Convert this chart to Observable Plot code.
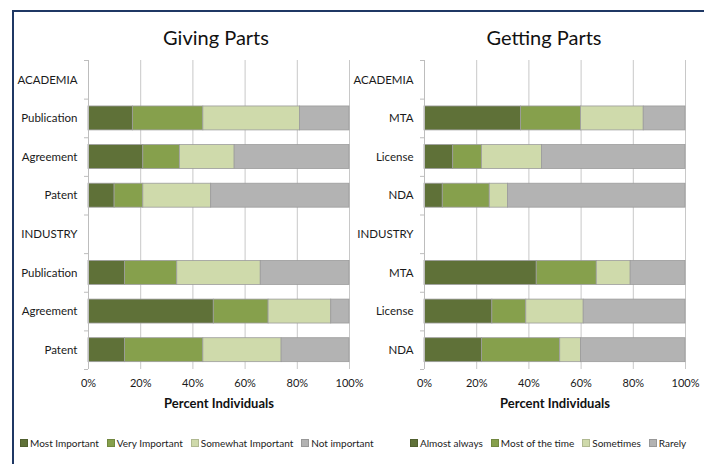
<!DOCTYPE html>
<html><head><meta charset="utf-8">
<script src="https://cdn.jsdelivr.net/npm/d3@7"></script>
<script src="https://cdn.jsdelivr.net/npm/@observablehq/plot@0.6"></script>
<style>
body{margin:0;background:#fff;font-family:Lato,"Open Sans",sans-serif}
#frame{position:relative;width:704px;height:464px;overflow:hidden;background:#fff}
#border{position:absolute;left:12px;top:10px;width:900px;height:700px;border-left:2px solid #1f3864;border-top:2px solid #1f3864}
.title{position:absolute;top:25px;font-size:20px;line-height:24px;transform:translateX(-50%);white-space:nowrap;color:#111}
.panel{position:absolute;top:50px}
.panel svg{overflow:visible}
.legend{position:absolute;top:436px;display:flex;gap:8px;font-size:10px;line-height:14px;color:#222;white-space:nowrap}
.legend .item{display:flex;align-items:center}
.legend .sw{display:inline-block;width:6px;height:6px;margin-right:2px;border:0.5px solid rgba(0,0,0,0.15)}
</style></head>
<body>
<div id="frame">
  <div id="border"></div>
  <div class="title" style="left:216px">Giving Parts</div>
  <div class="title" style="left:544px">Getting Parts</div>
  <div class="panel" id="p1" style="left:0px"></div>
  <div class="panel" id="p2" style="left:340px"></div>
  <div class="legend" id="l1" style="left:20px"></div>
  <div class="legend" id="l2" style="left:410px"></div>
</div>
<script>
// ---- data ----
const colors = ["#5f7138", "#86a04c", "#cfdaab", "#b3b3b3"];
const xTicks = [0, 20, 40, 60, 80, 100];

const giveLevels = ["Most Important", "Very Important", "Somewhat Important", "Not important"];
const giveCategories = ["ACADEMIA", "Publication", "Agreement", "Patent", "INDUSTRY", "Publication", "Agreement", "Patent"];
const giveMost     = [null, 17, 21, 10, null, 14, 48, 14];
const giveVery     = [null, 27, 14, 11, null, 20, 21, 30];
const giveSomewhat = [null, 37, 21, 26, null, 32, 24, 30];
const giveNot      = [null, 19, 44, 53, null, 34, 7, 26];

const getLevels = ["Almost always", "Most of the time", "Sometimes", "Rarely"];
const getCategories = ["ACADEMIA", "MTA", "License", "NDA", "INDUSTRY", "MTA", "License", "NDA"];
const getAlmost    = [null, 37, 11, 7, null, 43, 26, 22];
const getMost      = [null, 23, 11, 18, null, 23, 13, 30];
const getSometimes = [null, 24, 23, 7, null, 13, 22, 8];
const getRarely    = [null, 16, 55, 68, null, 21, 39, 40];

function panel(cats, series, levels, width, marginLeft, marginRight) {
  const rows = [];
  cats.forEach((c, i) => {
    let acc = 0;
    series.forEach((s, j) => {
      const v = s[i];
      if (v == null) return;
      rows.push({i, level: levels[j], x1: acc, x2: acc + v});
      acc += v;
    });
  });
  const centers = d3.range(cats.length).map(i => i + 0.5);
  const bounds = d3.range(cats.length + 1);
  return Plot.plot({
    width, height: 364,
    marginLeft, marginRight, marginTop: 10, marginBottom: 45,
    style: {background: "transparent", fontFamily: "Lato, 'Open Sans', sans-serif", color: "#1a1a1a", overflow: "visible"},
    x: {domain: [0, 100]},
    y: {domain: [0, cats.length], reverse: true},
    color: {domain: levels, range: colors},
    marks: [
      Plot.gridX(xTicks, {stroke: "#c8c8c8", strokeOpacity: 1}),
      Plot.rect(rows, {x1: "x1", x2: "x2", y1: d => d.i + 0.19, y2: d => d.i + 0.81,
        fill: "level", stroke: "#9c9c9c", strokeWidth: 0.8}),
      Plot.ruleX([0], {stroke: "#bdbdbd"}),
      Plot.axisX(xTicks, {tickSize: 0, tickPadding: 10, tickFormat: d => d + "%", fontSize: 11, label: null}),
      Plot.axisY(centers, {tickSize: 0, tickPadding: 11, tickFormat: d => cats[Math.floor(d)], fontSize: 11.5, label: null}),
      Plot.axisY(bounds, {tickSize: 4, stroke: "#bdbdbd", tickFormat: () => "", label: null}),
      Plot.text(["Percent Individuals"], {frameAnchor: "bottom", dy: 38, fontWeight: "bold", fontSize: 13, fill: "#111"})
    ]
  });
}

document.getElementById("p1").appendChild(
  panel(giveCategories, [giveMost, giveVery, giveSomewhat, giveNot], giveLevels, 370, 88, 21));
document.getElementById("p2").appendChild(
  panel(getCategories, [getAlmost, getMost, getSometimes, getRarely], getLevels, 364, 84, 19));

function legend(id, levels) {
  const el = document.getElementById(id);
  levels.forEach((l, j) => {
    const item = document.createElement("span");
    item.className = "item";
    const sw = document.createElement("span");
    sw.className = "sw";
    sw.style.background = colors[j];
    item.appendChild(sw);
    item.appendChild(document.createTextNode(l));
    el.appendChild(item);
  });
}
legend("l1", giveLevels);
legend("l2", getLevels);
</script>
</body></html>
